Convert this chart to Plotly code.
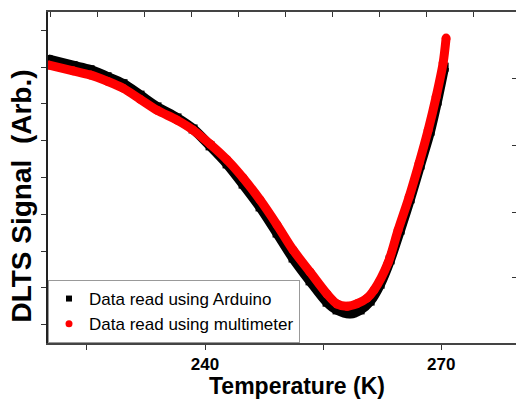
import plotly.graph_objects as go

# DLTS spectra: temperature (K) and signal (arbitrary units)
temp_arduino = [220.05, 223.23, 225.39, 227.55, 229.58, 231.74, 233.90, 236.44, 238.48,
                240.64, 242.80, 244.83, 246.99, 249.15, 251.18, 253.34, 255.50, 256.77,
                258.42, 259.70, 260.97, 262.24, 263.51, 264.78, 266.05, 267.32, 268.59,
                269.48, 270.37]
signal_arduino = [7.21, 7.04, 6.93, 6.74, 6.55, 6.24, 5.92, 5.62, 5.32,
                  4.86, 4.37, 3.82, 3.20, 2.49, 1.81, 1.19, 0.61, 0.40,
                  0.30, 0.40, 0.64, 1.10, 1.76, 2.57, 3.42, 4.34, 5.26,
                  6.08, 7.00]

temp_multimeter = [220.05, 223.23, 225.39, 227.55, 229.58, 231.74, 233.90, 236.44, 238.48,
                   240.64, 242.80, 244.83, 246.99, 249.15, 251.18, 253.34, 255.50, 256.77,
                   258.04, 259.31, 260.58, 261.47, 263.25, 264.52, 265.92, 267.19, 268.34,
                   269.35, 270.24, 270.62]
signal_multimeter = [7.06, 6.90, 6.79, 6.62, 6.43, 6.13, 5.83, 5.56, 5.29,
                     4.91, 4.48, 3.99, 3.39, 2.71, 2.03, 1.43, 0.83, 0.56,
                     0.50, 0.57, 0.72, 0.94, 1.68, 2.57, 3.47, 4.39, 5.29,
                     6.19, 7.11, 7.79]

series_names = ["Data read using Arduino", "Data read using multimeter"]
x_tick_labels = [240, 270]

FONT = "Arial, Liberation Sans, sans-serif"
x_range = [220.05, 279.5]
y_range = [-0.5, 8.5]

fig = go.Figure()

# thick traces drawn as dense overlapping symbols
fig.add_trace(go.Scatter(
    x=temp_arduino, y=signal_arduino, mode="lines+markers",
    line=dict(color="black", width=10, shape="spline", smoothing=0.8),
    marker=dict(symbol="square", size=9, color="black"),
    showlegend=False,
))
fig.add_trace(go.Scatter(
    x=temp_multimeter, y=signal_multimeter, mode="lines+markers",
    line=dict(color="#ff0000", width=9, shape="spline", smoothing=0.8),
    marker=dict(symbol="circle", size=9, color="#ff0000"),
    showlegend=False,
))

# legend entries (marker symbols only)
fig.add_trace(go.Scatter(
    x=[None], y=[None], mode="markers", name=series_names[0],
    marker=dict(symbol="square", size=6, color="black"), xaxis="x2", yaxis="y2",
))
fig.add_trace(go.Scatter(
    x=[None], y=[None], mode="markers", name=series_names[1],
    marker=dict(symbol="circle", size=7, color="#ff0000"), xaxis="x2", yaxis="y2",
))

fig.update_layout(
    width=516, height=400,
    margin=dict(l=48, r=0, t=12, b=57),
    paper_bgcolor="white", plot_bgcolor="white",
    font=dict(family=FONT, color="black"),
    showlegend=True,
    legend=dict(
        x=0, y=0, xanchor="left", yanchor="bottom",
        bgcolor="white", bordercolor="#999999", borderwidth=1,
        font=dict(family=FONT, size=17, color="black"),
        tracegroupgap=0, itemwidth=30,
    ),
    xaxis=dict(
        range=x_range, showgrid=False, zeroline=False,
        showline=True, linecolor="#444444", linewidth=1.5, mirror=True,
        tickmode="array", tickvals=x_tick_labels, ticktext=[str(v) for v in x_tick_labels],
        ticks="outside", ticklen=5, tickwidth=1, tickcolor="#333333",
        tickfont=dict(family=FONT, size=17, color="black", weight="bold"),
        minor=dict(tickmode="linear", tick0=225, dtick=15, ticks="outside",
                   ticklen=5, tickcolor="#333333"),
    ),
    yaxis=dict(
        range=y_range, showgrid=False, zeroline=False,
        showline=True, linecolor="#222222", linewidth=1.5, mirror=False,
        tickmode="linear", tick0=0, dtick=1, showticklabels=False,
        ticks="outside", ticklen=5, tickwidth=1, tickcolor="#333333",
    ),
    xaxis2=dict(
        overlaying="x", side="top", range=x_range, showgrid=False, zeroline=False,
        showline=False, tickmode="linear", tick0=226.28, dtick=5.97,
        ticks="inside", ticklen=5, tickcolor="#333333", showticklabels=False,
    ),
    yaxis2=dict(
        overlaying="y", side="right", range=y_range, showgrid=False, zeroline=False,
        showline=False, tickmode="array", tickvals=[1.27, 3.06, 4.88, 6.7],
        ticks="inside", ticklen=4, tickcolor="#333333", showticklabels=False,
    ),
    annotations=[
        dict(
            text="<b>DLTS Signal  (Arb.)</b>", textangle=-90,
            xref="paper", yref="paper", x=-0.056, y=0.445,
            xanchor="center", yanchor="middle", showarrow=False,
            font=dict(family=FONT, size=28, color="black"),
        ),
        dict(
            text="<b>Temperature (K)</b>",
            xref="paper", yref="paper", x=0.532, y=-0.130,
            xanchor="center", yanchor="middle", showarrow=False, borderpad=0,
            font=dict(family=FONT, size=23, color="black"),
        ),
    ],
)

fig.write_html("out.html")
